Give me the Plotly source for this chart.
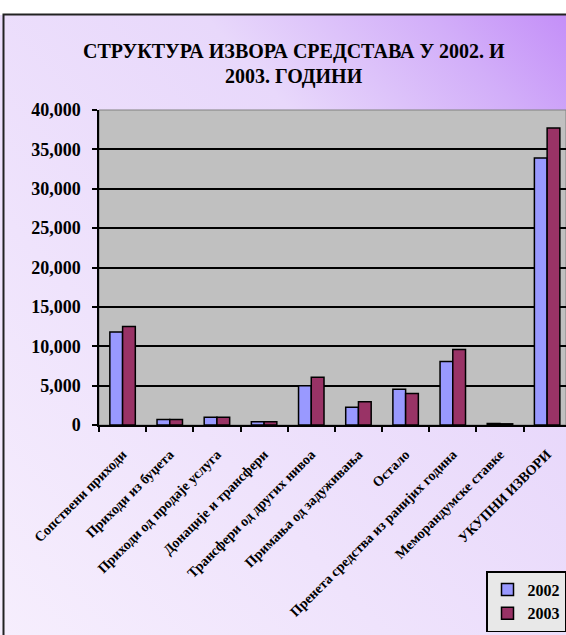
import base64
import plotly.graph_objects as go

categories = [
    "Сопствени приходи",
    "Приходи из буџета",
    "Приходи од продаје услуга",
    "Донације и трансфери",
    "Трансфери од других нивоа",
    "Примања од задуживања",
    "Остало",
    "Пренета средства из ранијих година",
    "Меморандумске ставке",
    "УКУПНИ ИЗВОРИ",
]
values_2002 = [11800, 700, 1000, 400, 5000, 2250, 4550, 8050, 200, 33900]
values_2003 = [12500, 700, 1000, 400, 6050, 2950, 4000, 9600, 150, 37700]
y_ticks = [0, 5000, 10000, 15000, 20000, 25000, 30000, 35000, 40000]

W, H = 566, 635
ML, MR, MT, MB = 99, 0, 110, 210
PW, PH = W - ML - MR, H - MT - MB
SERIF = "Liberation Serif, Times New Roman, serif"


def px(x):
    return (x - ML) / PW


def py(y):
    return (H - MB - y) / PH


svg = (
    '<svg xmlns="http://www.w3.org/2000/svg" width="566" height="620" preserveAspectRatio="none">'
    '<defs><linearGradient id="g" x1="1" y1="0" x2="0" y2="1">'
    '<stop offset="0" stop-color="#c48ff8"/>'
    '<stop offset="0.12" stop-color="#d2aef9"/>'
    '<stop offset="0.32" stop-color="#e8d8fb"/>'
    '<stop offset="1" stop-color="#f6eefd"/>'
    '</linearGradient></defs>'
    '<rect width="100%" height="100%" fill="url(#g)"/></svg>'
)
svg_uri = "data:image/svg+xml;base64," + base64.b64encode(svg.encode()).decode()

fig = go.Figure()
fig.add_trace(go.Bar(
    name="2002", x=categories, y=values_2002,
    marker=dict(color="#9999ff", line=dict(color="black", width=1.5)),
    legendgroup="a",
))
fig.add_trace(go.Bar(
    name="2003", x=categories, y=values_2003,
    marker=dict(color="#993366", line=dict(color="black", width=1.5)),
    legendgroup="b",
))

fig.update_layout(
    width=W, height=H,
    margin=dict(l=ML, r=MR, t=MT, b=MB, autoexpand=False),
    paper_bgcolor="white",
    plot_bgcolor="#c0c0c0",
    bargap=0.46, bargroupgap=0,
    showlegend=True,
    legend=dict(
        x=px(486), y=py(571), xanchor="left", yanchor="top",
        bgcolor="#e8e8e8", bordercolor="black", borderwidth=1.5,
        font=dict(family=SERIF, size=16, color="black", weight="bold"),
        tracegroupgap=14, traceorder="normal",
    ),
    images=[dict(
        source=svg_uri, xref="paper", yref="paper",
        x=px(0), y=py(15), sizex=W / PW, sizey=620 / PH,
        xanchor="left", yanchor="top", sizing="stretch", layer="below",
    )],
    shapes=[
        dict(type="rect", xref="x domain", yref="y domain", x0=0, x1=1, y0=0, y1=1,
             fillcolor="#c0c0c0", line=dict(color="#808080", width=1), layer="below"),
        dict(type="rect", xref="paper", yref="paper", x0=px(3.5), x1=px(580),
             y0=py(660), y1=py(14.5), fillcolor="rgba(0,0,0,0)",
             line=dict(color="#222222", width=2), layer="above"),
    ],
    annotations=[
        dict(text="СТРУКТУРА ИЗВОРА СРЕДСТАВА У 2002. И", xref="paper", yref="paper",
             x=px(294), y=py(52), xanchor="center", yanchor="middle", showarrow=False,
             font=dict(family=SERIF, size=20, color="black", weight="bold")),
        dict(text="2003. ГОДИНИ", xref="paper", yref="paper",
             x=px(294), y=py(77), xanchor="center", yanchor="middle", showarrow=False,
             font=dict(family=SERIF, size=20, color="black", weight="bold")),
    ],
)

fig.update_xaxes(
    type="category", categoryorder="array", categoryarray=categories,
    range=[-0.5, 9.4], showgrid=False,
    showline=True, linecolor="black", linewidth=1.5,
    ticks="outside", tickson="boundaries", ticklen=5, tickcolor="black", tickwidth=1.5,
    tickangle=-45, ticklabelstandoff=14,
    tickfont=dict(family=SERIF, size=14, color="black", weight="bold"),
    automargin=False,
)
fig.update_yaxes(
    range=[0, 40000], tickvals=y_ticks, tickformat=",",
    showgrid=True, gridcolor="black", gridwidth=1.5, zeroline=False,
    showline=True, linecolor="black", linewidth=1.5,
    ticks="outside", ticklen=5, tickcolor="black", tickwidth=1.5,
    ticklabelstandoff=8,
    tickfont=dict(family=SERIF, size=18, color="black", weight="bold"),
    automargin=False,
)

fig.write_html("out.html", config={"displayModeBar": False},
               post_script="document.body.style.margin='0';")
